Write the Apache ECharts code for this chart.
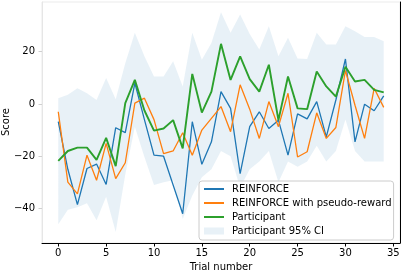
<!DOCTYPE html>
<html><head><meta charset="utf-8">
<script src="https://cdn.jsdelivr.net/npm/echarts@6/dist/echarts.min.js"></script>
<style>html,body{margin:0;padding:0;background:#fff}#c{width:402px;height:270px}</style>
</head><body><div id="c"></div>
<script>
const trials = [0,1,2,3,4,5,6,7,8,9,10,11,12,13,14,15,16,17,18,19,20,21,22,23,24,25,26,27,28,29,30,31,32,33,34];
const reinforce = [-6.8,-25,-38.5,-24.7,-23,-30.8,-9.1,-11,8,-6,-19.6,-20,-31,-42,-6.8,-23.1,-14.5,4.7,-1.7,-26.7,-8.7,-3,-9.4,-6.2,-19.6,-3.8,-5.7,0.9,-12.6,1.5,17.2,-14.5,-0.1,-2.6,3.1];
const pseudo = [-3,-29.9,-34.4,-19.6,-29.2,-15.1,-28.6,-22.5,0.3,2.2,-6,-19,-18,-11,-19.6,-10,-5.5,-1,-10.6,7.3,-2,-13.2,0.9,-8.7,4.1,-20.3,-18.3,-3.4,-13.2,-9,12.8,-0.5,-13.2,6,-1.3];
const participant = [-21.8,-18,-16.7,-16.7,-21.4,-13,-23.8,0.3,9.2,-2.5,-10.2,-9.4,-6.2,-17,11.5,-3.3,4.7,23,9.2,18.2,9.5,4.7,15,-6.2,10.5,-1.7,-2,12.4,6.7,2.8,14.2,8.6,9.2,5.4,4.4];
const ciUpper = [2.2,3.5,6,4.1,1.5,9.9,1.8,15.6,27.2,18.2,10.5,10.5,16.3,6.7,27.2,16.9,23.3,35.1,27.2,34.2,26.8,20.8,29.7,18.2,25.3,17.4,17.2,27.2,22.7,22.7,29.7,27.8,25.6,25.6,24];
const ciLower = [-46,-40.5,-39.5,-38,-44.5,-35.5,-49,-27,-8.7,-20.3,-31,-30,-29.2,-44,-35,-28,-25,-18,-20,-32,-25,-22,-18,-30,-22,-24,-22,-16,-22,-18,-6,-18,-22,-22,-22];
const xTicks = [0,5,10,15,20,25,30,35];
const yTicks = [-40,-20,0,20];
const names = ['REINFORCE','REINFORCE with pseudo-reward','Participant','Participant 95% CI'];

const pair = arr => trials.map((t,i)=>[t,arr[i]]);
const bandColor = 'rgba(31,119,180,0.1)';
const font = 'DejaVu Sans';
const chart = echarts.init(document.getElementById('c'), null, {renderer:'canvas'});
const lineSeries = (name, arr, color, width, z) => ({
  type:'line',name,data:pair(arr),symbol:'none',showSymbol:false,symbolSize:0,
  lineStyle:{color,width},itemStyle:{color,opacity:0},z,emphasis:{disabled:true}
});
chart.setOption({
  animation:false,
  grid:{left:42,right:2,top:2,bottom:27,outerBoundsMode:'none',containLabel:false,
    show:true,borderColor:'#ebebeb',borderWidth:1},
  xAxis:{type:'value',min:-1.7,max:35.7,
    axisLine:{show:true,onZero:false,lineStyle:{color:'#000',width:1}},
    axisTick:{show:true,customValues:xTicks,length:3.5,lineStyle:{color:'#000'}},
    axisLabel:{customValues:xTicks,fontFamily:font,fontSize:10,color:'#000',margin:5},
    splitLine:{show:false},
    name:'Trial number',nameLocation:'middle',nameGap:16,
    nameTextStyle:{fontFamily:font,fontSize:10,color:'#000'}},
  yAxis:[{type:'value',min:-53.2,max:39,
    axisLine:{show:true,onZero:false,lineStyle:{color:'#e6e6e6',width:1}},
    axisTick:{show:true,customValues:yTicks,length:3.5,lineStyle:{color:'#d0d0d0'}},
    axisLabel:{customValues:yTicks,fontFamily:font,fontSize:10,color:'#000',margin:7,
      formatter:v=>String(v).replace('-','\u2212')},
    splitLine:{show:false}},
    {type:'value',min:-53.2,max:39,position:'right',
    axisLine:{show:true,onZero:false,lineStyle:{color:'#000',width:1}},
    axisTick:{show:false},axisLabel:{show:false},splitLine:{show:false}}],
  graphic:[{type:'text',x:6,y:122,rotation:Math.PI/2,
    style:{text:'Score',fontFamily:font,fontSize:10,fill:'#000',align:'center',verticalAlign:'middle'}}],
  legend:{orient:'vertical',left:199,top:181,
    data:[{name:names[0]},{name:names[1]},{name:names[2]},
      {name:names[3],icon:'rect',itemStyle:{color:bandColor,opacity:1}}],
    itemWidth:20,itemHeight:7,itemGap:4,
    padding:[3,2,4,4],
    backgroundColor:'rgba(255,255,255,0.8)',borderColor:'#cccccc',borderWidth:1,borderRadius:3,
    textStyle:{fontFamily:font,fontSize:10,color:'#000',padding:[0,0,0,3]}},
  series:[
    {type:'custom',name:names[3],data:[0],itemStyle:{color:bandColor},z:1,silent:true,
      renderItem:(params,api)=>{
        const pts=[];
        trials.forEach((t,i)=>pts.push(api.coord([t,ciUpper[i]])));
        for(let i=trials.length-1;i>=0;i--) pts.push(api.coord([trials[i],ciLower[i]]));
        return {type:'polygon',shape:{points:pts},style:{fill:bandColor}};
      }},
    lineSeries(names[0], reinforce, '#1f77b4', 1.3, 2),
    lineSeries(names[1], pseudo, '#ff7f0e', 1.3, 3),
    lineSeries(names[2], participant, '#2ca02c', 1.9, 4)
  ]
});
</script></body></html>
